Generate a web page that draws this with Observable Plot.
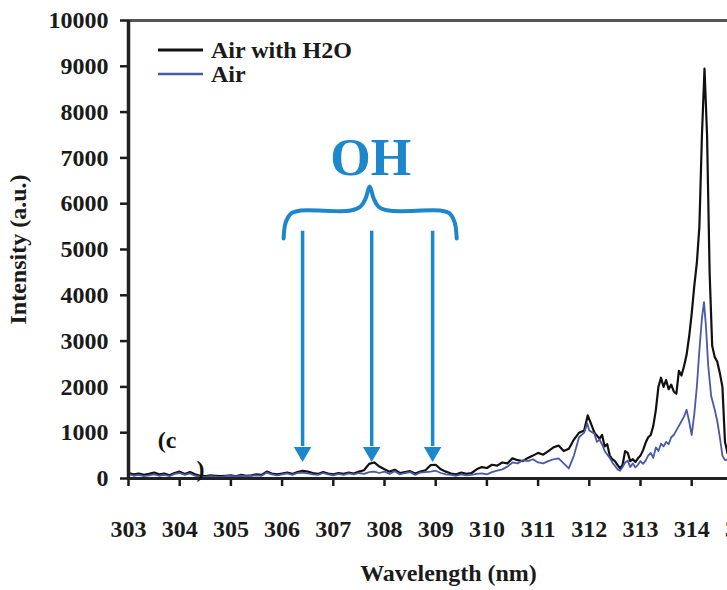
<!DOCTYPE html>
<html><head><meta charset="utf-8">
<script src="https://cdn.jsdelivr.net/npm/d3@7"></script>
<script src="https://cdn.jsdelivr.net/npm/@observablehq/plot@0.6"></script>
<style>
html,body{margin:0;padding:0;background:#fff;overflow:hidden;width:727px;height:590px;}
#chart{width:727px;height:590px;overflow:hidden;}
#chart svg{display:block;max-width:none !important;width:788px !important;height:590px !important;}
</style></head><body><div id="chart"></div>
<script>
// Air with H2O spectrum
const h2oWl = [303.0,303.1,303.2,303.3,303.4,303.5,303.6,303.7,303.8,303.9,304.0,304.1,304.2,304.3,304.4,304.5,304.6,304.7,304.8,304.9,305.0,305.1,305.2,305.3,305.4,305.5,305.6,305.7,305.8,305.9,306.0,306.1,306.2,306.3,306.4,306.5,306.6,306.7,306.8,306.9,307.0,307.1,307.2,307.3,307.4,307.5,307.6,307.7,307.8,307.9,308.0,308.1,308.2,308.3,308.4,308.5,308.6,308.7,308.8,308.9,309.0,309.1,309.2,309.3,309.4,309.5,309.6,309.7,309.8,309.9,310.0,310.1,310.2,310.3,310.4,310.5,310.6,310.7,310.8,310.9,311.0,311.1,311.2,311.3,311.4,311.5,311.6,311.7,311.8,311.9,311.97,312.05,312.1,312.2,312.25,312.3,312.35,312.4,312.45,312.5,312.55,312.6,312.65,312.7,312.75,312.8,312.85,312.9,312.95,313.0,313.05,313.1,313.15,313.2,313.25,313.3,313.35,313.4,313.45,313.5,313.55,313.6,313.65,313.7,313.75,313.8,313.85,313.9,313.95,314.0,314.05,314.1,314.15,314.2,314.25,314.3,314.35,314.4,314.45,314.5,314.55,314.6,314.65,314.7,314.8];
const h2oI = [120,90,110,80,100,130,90,110,70,120,150,100,140,90,60,50,70,60,50,60,70,50,80,60,70,90,80,150,110,90,110,130,100,140,170,150,120,100,140,110,90,120,100,130,110,150,180,320,350,260,200,150,190,120,140,160,110,150,180,290,300,200,150,110,90,130,100,120,200,250,230,300,280,350,330,440,400,380,450,500,560,520,600,680,720,600,650,850,1000,1050,1380,1150,1000,870,950,700,750,500,420,380,300,220,300,600,560,380,420,360,440,500,620,780,900,950,1150,1500,2000,2200,2000,2150,1950,2050,1900,1850,2350,2250,2450,2700,3100,3600,4200,4700,5500,7500,8950,7500,4500,2900,2650,2550,2300,2000,800,550,450];
// Air spectrum
const airWl = [303.0,303.1,303.2,303.3,303.4,303.5,303.6,303.7,303.8,303.9,304.0,304.1,304.2,304.3,304.4,304.5,304.6,304.7,304.8,304.9,305.0,305.1,305.2,305.3,305.4,305.5,305.6,305.7,305.8,305.9,306.0,306.1,306.2,306.3,306.4,306.5,306.6,306.7,306.8,306.9,307.0,307.1,307.2,307.3,307.4,307.5,307.6,307.7,307.8,307.9,308.0,308.1,308.2,308.3,308.4,308.5,308.6,308.7,308.8,308.9,309.0,309.1,309.2,309.3,309.4,309.5,309.6,309.7,309.8,309.9,310.0,310.1,310.2,310.3,310.4,310.5,310.6,310.7,310.8,310.9,311.0,311.1,311.2,311.3,311.4,311.5,311.6,311.7,311.8,311.9,311.96,312.0,312.1,312.15,312.2,312.26,312.3,312.4,312.46,312.5,312.55,312.6,312.65,312.7,312.75,312.8,312.85,312.9,312.95,313.0,313.05,313.1,313.15,313.2,313.25,313.3,313.35,313.4,313.45,313.5,313.55,313.6,313.65,313.7,313.75,313.8,313.85,313.9,313.95,314.0,314.05,314.1,314.15,314.2,314.24,314.28,314.32,314.38,314.45,314.5,314.55,314.6,314.65,314.7,314.8];
const airI = [100,60,80,50,70,90,60,80,50,100,120,80,110,60,40,30,50,40,30,50,60,40,60,50,60,70,60,130,90,70,90,110,80,120,130,110,90,80,120,90,70,100,80,110,90,120,100,140,150,120,150,100,160,90,120,140,80,130,140,150,170,120,90,80,60,90,70,80,100,110,90,140,170,200,260,350,330,400,380,420,350,330,380,420,440,330,220,500,900,1000,1200,1050,980,800,850,720,600,450,330,280,200,170,250,350,390,250,330,240,300,380,320,390,500,560,450,680,600,760,700,800,750,900,950,1050,1150,1250,1350,1500,1250,950,1400,2000,2800,3500,3850,3300,2500,1800,1500,1250,900,500,400,420,450];

const seriesNames = ["Air with H2O", "Air"];
const seriesColors = ["#111111", "#4a58a8"];
const xTicks = [303,304,305,306,307,308,309,310,311,312,313,314,315];
const yTicks = [0,1000,2000,3000,4000,5000,6000,7000,8000,9000,10000];

// OH annotation: arrow wavelengths and brace outline (data coordinates)
const ohArrowWl = [306.4, 307.75, 308.94];
const braceWl = [306.03,306.07,306.18,306.36,307.34,307.53,307.63,307.71,307.79,307.88,308.08,309.09,309.27,309.37,309.41];
const braceI  = [5240,5590,5790,5850,5850,5940,6110,6375,6110,5940,5850,5850,5790,5590,5240];

const h2oData = h2oWl.map((w,i)=>({w, v:h2oI[i]}));
const airData = airWl.map((w,i)=>({w, v:airI[i]}));
const braceData = braceWl.map((w,i)=>({w, v:braceI[i]}));
const arrowData = ohArrowWl.map(w=>({w}));
const ohBlue = "#1d87cc";
const ink = "#1a1a1a";
const font = "'Liberation Serif', 'Times New Roman', serif";

const plot = Plot.plot({
  width: 788, height: 590,
  marginLeft: 128, marginRight: 20, marginTop: 20, marginBottom: 112,
  style: {fontFamily: font, fontSize: "24px", fontWeight: "bold", color: ink, background: "#fff", maxWidth: "none"},
  x: {domain: [303, 315.5]},
  y: {domain: [0, 10000]},
  marks: [
    // tick marks through the library's axes
    Plot.axisX({ticks: xTicks, tickFormat: () => "", tickSize: 8, label: null, strokeWidth: 2.5}),
    Plot.axisY({ticks: yTicks, tickFormat: () => "", tickSize: 8, label: null, strokeWidth: 2.5}),
    // tick labels
    Plot.text(xTicks, {x: d=>d, frameAnchor: "bottom", dy: 51, text: d=>String(d), fontSize: 24, fill: ink, textAnchor: "middle", lineAnchor: "middle", style: "letter-spacing:1px"}),
    Plot.text(yTicks, {y: d=>d, frameAnchor: "left", dx: -20, text: d=>String(d), fontSize: 24, fill: ink, textAnchor: "end", lineAnchor: "middle", style: "letter-spacing:0.5px"}),
    Plot.ruleY([10000], {stroke: "#555", strokeWidth: 3}),
    Plot.line(h2oData, {x: "w", y: "v", stroke: seriesColors[0], strokeWidth: 2.2}),
    Plot.line(airData, {x: "w", y: "v", stroke: seriesColors[1], strokeWidth: 1.8}),
    Plot.ruleX([303], {stroke: "#222", strokeWidth: 3.5}),
    Plot.ruleY([0], {stroke: "#222", strokeWidth: 3}),
    // OH annotation
    Plot.line(braceData, {x: "w", y: "v", stroke: ohBlue, strokeWidth: 4, curve: "catmull-rom"}),
    Plot.ruleX(arrowData, {x: "w", y1: 5400, y2: 700, stroke: ohBlue, strokeWidth: 3.5}),
    Plot.dot(arrowData, {x: "w", y: 580, symbol: "triangle", rotate: 180, r: 6.5, fill: ohBlue, stroke: "none"}),
    Plot.text(["OH"], {x: 307.73, y: 7000, text: d=>d, fill: ohBlue, fontSize: 52, fontWeight: "bold", textAnchor: "middle"}),
    Plot.text(["(c"], {x: 303.57, y: 830, text: d=>d, textAnchor: "start", fontSize: 24, fill: "#111"}),
    Plot.text([")"], {x: 304.33, y: 200, text: d=>d, textAnchor: "start", fontSize: 24, fill: "#111"}),
    // axis titles
    Plot.text(["Wavelength (nm)"], {frameAnchor: "bottom", dy: 95, text: d=>d, fontSize: 24, fill: ink, textAnchor: "middle", lineAnchor: "middle", style: "letter-spacing:0.6px"}),
    Plot.text(["Intensity (a.u.)"], {frameAnchor: "left", dx: -110, rotate: -90, text: d=>d, fontSize: 24, fill: ink, textAnchor: "middle", lineAnchor: "middle", style: "letter-spacing:1.2px"})
  ]
});

// legend inside the plot (top-left)
const svg = d3.select(plot);
const lg = svg.append("g").attr("font-family", font).attr("font-weight", "bold").attr("font-size", 24).attr("text-anchor", "start");
seriesNames.forEach((name, i) => {
  const y = 50 + i * 24;
  lg.append("line").attr("x1", 158).attr("x2", 203).attr("y1", y).attr("y2", y)
    .attr("stroke", seriesColors[i]).attr("stroke-width", i === 0 ? 3 : 2.5);
  lg.append("text").attr("x", 211).attr("y", y).attr("dy", "0.35em").attr("fill", ink).text(name);
});

document.getElementById("chart").appendChild(plot);
</script></body></html>
